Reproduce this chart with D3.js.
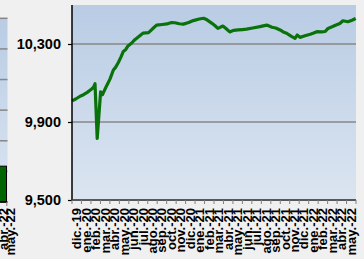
<!DOCTYPE html>
<html><head><meta charset="utf-8">
<script src="https://cdn.jsdelivr.net/npm/d3@7"></script>
<style>
body{margin:0;background:#f0f0f0;}
svg{display:block;font-family:"Liberation Sans",Arial,sans-serif;font-weight:bold;}
</style>
</head><body><svg id="c" width="364" height="259"></svg>
<script>
// ---- data ----
const months = ["dic.-19","ene.-20","feb.-20","mar.-20","abr.-20","may.-20","jun.-20","jul.-20","ago.-20","sep.-20","oct.-20","nov.-20",
  "dic.-20","ene.-21","feb.-21","mar.-21","abr.-21","may.-21","jun.-21","jul.-21","ago.-21","sep.-21","oct.-21","nov.-21",
  "dic.-21","ene.-22","feb.-22","mar.-22","abr.-22","may.-22"];
const dates = ["2019-12-01","2019-12-13","2019-12-27","2020-01-07","2020-01-19","2020-01-30","2020-02-08","2020-02-13","2020-02-20",
  "2020-03-02","2020-03-08","2020-03-21","2020-04-01","2020-04-12","2020-04-19","2020-04-28","2020-05-07","2020-05-14","2020-05-22",
  "2020-05-29","2020-06-10","2020-06-20","2020-07-04","2020-07-17","2020-08-03","2020-08-16","2020-08-29","2020-09-16","2020-10-01",
  "2020-10-16","2020-10-27","2020-11-10","2020-11-23","2020-12-10","2020-12-25","2021-01-13","2021-01-27","2021-02-07","2021-02-23",
  "2021-03-04","2021-03-14","2021-03-30","2021-04-10","2021-04-21","2021-05-04","2021-05-18","2021-06-01","2021-06-14","2021-07-04",
  "2021-07-27","2021-08-18","2021-09-04","2021-09-16","2021-09-30","2021-10-10","2021-10-21","2021-11-04","2021-11-17","2021-11-24",
  "2021-12-03","2021-12-19","2022-01-05","2022-01-16","2022-01-26","2022-02-10","2022-02-22","2022-03-03","2022-03-16","2022-03-29",
  "2022-04-10","2022-04-20","2022-05-06","2022-05-19","2022-05-31"];
const values = [10008,10018,10032,10040,10052,10065,10078,10096,9816,
  10055,10040,10085,10120,10167,10180,10205,10235,10262,10272,
  10290,10305,10322,10340,10356,10358,10378,10397,10400,10403,
  10410,10409,10404,10402,10410,10420,10428,10432,10424,10406,
  10395,10380,10392,10378,10362,10370,10372,10374,10376,10382,
  10389,10397,10386,10382,10372,10362,10355,10340,10329,10346,
  10334,10342,10350,10356,10363,10362,10364,10380,10388,10397,
  10405,10419,10414,10422,10431];
const yTicks = [9500, 9900, 10300];
const yDomain = [9500, 10500];
// neighbouring (cropped) chart on the left
const leftCategories = ["abr.-22","may.-22"];
const leftValues = [1.17, 0];
const leftGrid = [0,1,2,3,4,5,6];

// ---- drawing ----
const svg = d3.select("#c");
const defs = svg.append("defs");
const grad = defs.append("linearGradient").attr("id","bg").attr("x1",0).attr("y1",0).attr("x2",0).attr("y2",1);
grad.append("stop").attr("offset","0%").attr("stop-color","#b9cce4");
grad.append("stop").attr("offset","100%").attr("stop-color","#dbe5f1");

const gridColor = "#878787";

// left partial chart
const lx = d3.scaleBand().domain(leftCategories).range([-0.5, 13.5]).padding(0);
const ly = d3.scaleLinear().domain([0,6]).range([202, 18.3]);
svg.append("rect").attr("x",-5).attr("y",ly(6)).attr("width",12.5).attr("height",ly(0)-ly(6)).attr("fill","url(#bg)");
svg.selectAll(".lg").data(leftGrid.slice(1)).join("line")
  .attr("x1",-5).attr("x2",7.5).attr("y1",d=>ly(d)).attr("y2",d=>ly(d))
  .attr("stroke",gridColor).attr("stroke-width",1.5);
svg.selectAll(".lb").data(leftCategories).join("rect")
  .attr("x",d=>lx(d)).attr("width",lx.bandwidth())
  .attr("y",(d,i)=>ly(leftValues[i])).attr("height",(d,i)=>ly(0)-ly(leftValues[i]))
  .attr("fill","#006400").attr("stroke","#000").attr("stroke-width",1);
svg.append("line").attr("x1",-5).attr("x2",7.5).attr("y1",ly(0)).attr("y2",ly(0)).attr("stroke","#000").attr("stroke-width",1.5);
svg.append("line").attr("x1",6.8).attr("x2",6.8).attr("y1",ly(0)).attr("y2",ly(0)+4).attr("stroke","#808080");
svg.selectAll(".ll").data(leftCategories).join("text")
  .attr("transform",d=>`translate(${lx(d)+lx.bandwidth()/2},208) rotate(-90)`)
  .attr("text-anchor","end").attr("dy","0.35em").attr("font-size","13px").attr("fill","#000").text(d=>d);

// main chart
const x0 = 72, x1 = 356, yTop = 5, yBot = 200;
const xb = d3.scaleBand().domain(months).range([x0, x1]);
const xt = d3.scaleTime().domain([new Date(2019,11,1), new Date(2022,5,1)]).range([x0, x1]);
const y = d3.scaleLinear().domain(yDomain).range([yBot, yTop]);

svg.append("rect").attr("x",x0).attr("y",yTop).attr("width",x1-x0).attr("height",yBot-yTop).attr("fill","url(#bg)");
svg.selectAll(".gl").data(yTicks).join("line")
  .attr("x1",x0).attr("x2",x1).attr("y1",d=>y(d)).attr("y2",d=>y(d))
  .attr("stroke",gridColor).attr("stroke-width",1.6);

// line
const parse = d3.timeParse("%Y-%m-%d");
const pts = dates.map((d,i)=>({d:parse(d), v:values[i]}));
svg.append("path").datum(pts)
  .attr("d", d3.line().x(p=>xt(p.d)).y(p=>y(p.v)))
  .attr("fill","none").attr("stroke","#0a720a").attr("stroke-width",3.2).attr("stroke-linejoin","round");

// y axis
const yAxis = svg.append("g").attr("transform",`translate(${x0},0)`)
  .call(d3.axisLeft(y).tickValues(yTicks).tickSize(4).tickPadding(7).tickFormat(d3.format(",")));
yAxis.select(".domain").attr("stroke","#000").attr("stroke-width",1.5).attr("d",`M0,${yTop}V${yBot}`);
yAxis.selectAll(".tick line").attr("stroke","#000").attr("stroke-width",1.2);
yAxis.selectAll("text").attr("font-size","14.5px").attr("font-family","Liberation Sans, Arial, sans-serif")
  .attr("font-weight","bold").attr("fill","#000");

// x axis
svg.append("line").attr("x1",x0).attr("x2",x1).attr("y1",yBot).attr("y2",yBot).attr("stroke","#404040").attr("stroke-width",1.5);
const bounds = months.map(m=>xb(m)).concat([x1]);
svg.selectAll(".xt").data(bounds).join("line")
  .attr("x1",d=>d).attr("x2",d=>d).attr("y1",yBot).attr("y2",yBot+4)
  .attr("stroke","#808080").attr("stroke-width",1);
svg.selectAll(".xl").data(months).join("text")
  .attr("transform",d=>`translate(${xb(d)+xb.bandwidth()/2},208) rotate(-90)`)
  .attr("text-anchor","end").attr("dy","0.35em").attr("font-size","13px").attr("fill","#000").text(d=>d);
</script>
</body></html>
